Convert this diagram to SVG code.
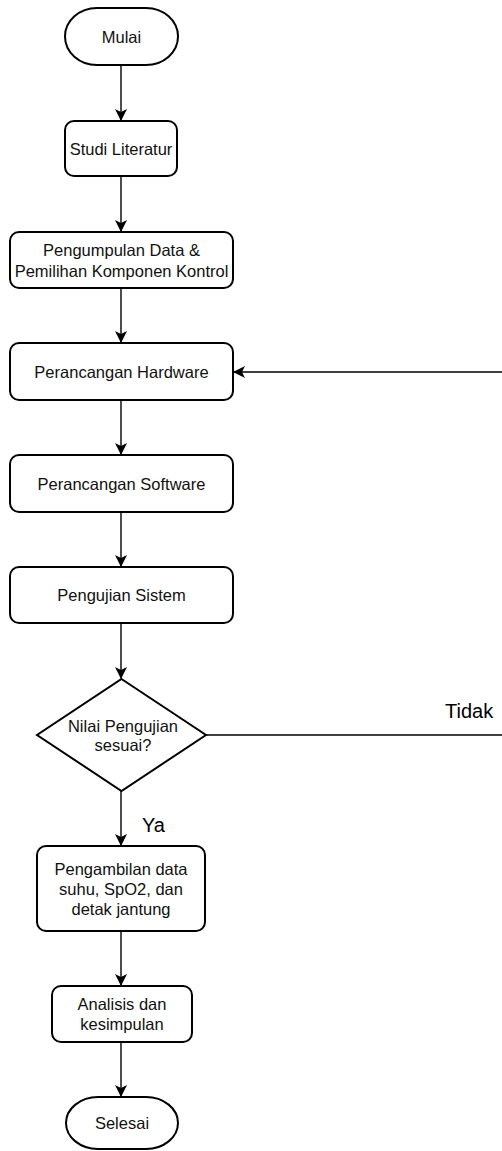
<svg xmlns="http://www.w3.org/2000/svg" width="502" height="1151" viewBox="0 0 502 1151">
<style>
.n{fill:#fff;stroke:#000;stroke-width:2}
.t{font-family:"Liberation Sans",Arial,Helvetica,sans-serif;font-size:16.5px;fill:#111;text-anchor:middle;dominant-baseline:central}
.l{font-family:"Liberation Sans",Arial,Helvetica,sans-serif;font-size:20px;fill:#000}
.c{fill:none;stroke:#000;stroke-width:1.4}
</style>
<defs>
<marker id="ah" viewBox="0 0 12 12" refX="11" refY="6" markerWidth="12" markerHeight="12" markerUnits="userSpaceOnUse" orient="auto">
<path d="M0,0 L12,6 L0,12 L3,6 Z" fill="#000"/>
</marker>
</defs>
<rect width="502" height="1151" fill="#fff"/>
<g id="connectors">
<line class="c" x1="121" y1="65" x2="121" y2="120" marker-end="url(#ah)"/>
<line class="c" x1="121" y1="176" x2="121" y2="231" marker-end="url(#ah)"/>
<line class="c" x1="121" y1="288" x2="121" y2="342" marker-end="url(#ah)"/>
<line class="c" x1="121" y1="400" x2="121" y2="454" marker-end="url(#ah)"/>
<line class="c" x1="121" y1="512" x2="121" y2="566" marker-end="url(#ah)"/>
<line class="c" x1="121" y1="623" x2="121" y2="678" marker-end="url(#ah)"/>
<line class="c" x1="121" y1="791" x2="121" y2="845" marker-end="url(#ah)"/>
<line class="c" x1="121" y1="931" x2="121" y2="985" marker-end="url(#ah)"/>
<line class="c" x1="121" y1="1042" x2="121" y2="1096" marker-end="url(#ah)"/>
<path class="c" d="M206,735 H505 V372 H234" marker-end="url(#ah)"/>
<text class="l" x="445" y="718">Tidak</text>
<text class="l" x="142" y="832">Ya</text>
</g>
<g id="mulai">
<rect class="n" x="65" y="8" width="113" height="57" rx="32" ry="28.5"/>
<text class="t" x="121.5" y="36.5">Mulai</text>
</g>
<g id="studi">
<rect class="n" x="65" y="121" width="112" height="55" rx="9"/>
<text class="t" x="121" y="148.5">Studi Literatur</text>
</g>
<g id="pengumpulan">
<rect class="n" x="10" y="232" width="223" height="56" rx="9"/>
<text class="t" x="121.5" y="250">Pengumpulan Data &amp;</text>
<text class="t" x="121.5" y="271">Pemilihan Komponen Kontrol</text>
</g>
<g id="hardware">
<rect class="n" x="10" y="343" width="223" height="57" rx="9"/>
<text class="t" x="121.5" y="371.5">Perancangan Hardware</text>
</g>
<g id="software">
<rect class="n" x="10" y="455" width="223" height="57" rx="9"/>
<text class="t" x="121.5" y="483.5">Perancangan Software</text>
</g>
<g id="pengujian">
<rect class="n" x="10" y="567" width="223" height="56" rx="9"/>
<text class="t" x="121.5" y="595">Pengujian Sistem</text>
</g>
<g id="keputusan">
<polygon class="n" points="121.5,679 206,735 121.5,791 37,735"/>
<text class="t" x="123" y="726">Nilai Pengujian</text>
<text class="t" x="123" y="745">sesuai?</text>
</g>
<g id="pengambilan">
<rect class="n" x="37" y="846" width="168" height="85" rx="9"/>
<text class="t" x="121" y="869">Pengambilan data</text>
<text class="t" x="121" y="889">suhu, SpO2, dan</text>
<text class="t" x="121" y="909">detak jantung</text>
</g>
<g id="analisis">
<rect class="n" x="52" y="986" width="140" height="56" rx="9"/>
<text class="t" x="122" y="1004">Analisis dan</text>
<text class="t" x="122" y="1024">kesimpulan</text>
</g>
<g id="selesai">
<rect class="n" x="66" y="1097" width="112" height="52" rx="32" ry="26"/>
<text class="t" x="122" y="1123">Selesai</text>
</g>
</svg>
